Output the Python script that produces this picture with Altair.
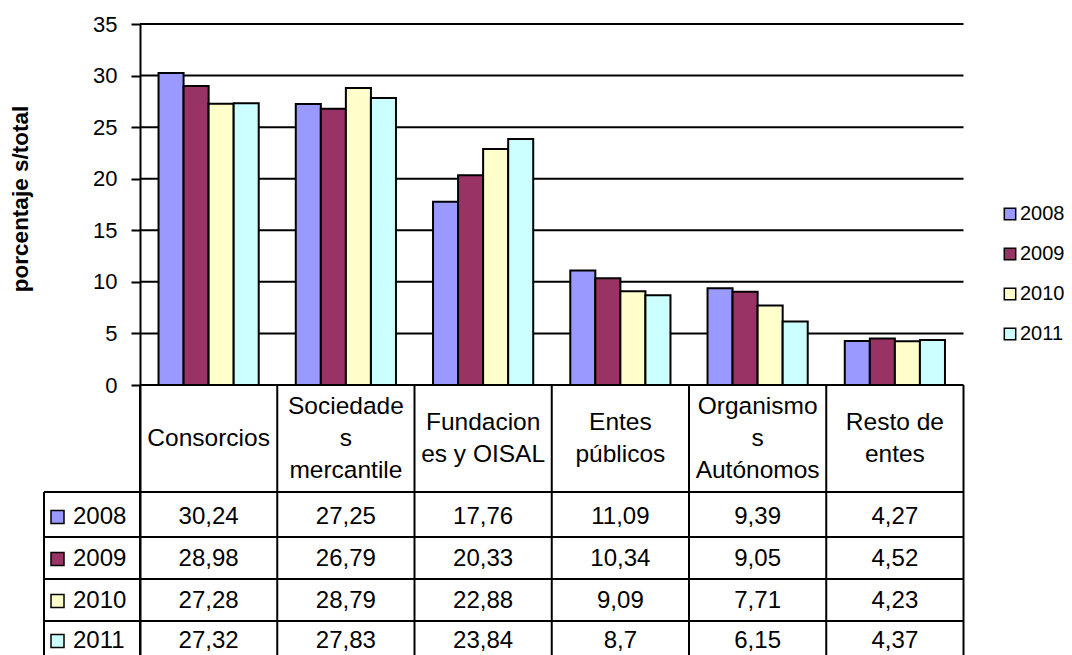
import altair as alt
import pandas as pd

# ---------------- data ----------------
categories = ["Consorcios", "Sociedade\ns\nmercantile", "Fundacion\nes y OISAL",
              "Entes\npúblicos", "Organismo\ns\nAutónomos", "Resto de\nentes"]
years = ["2008", "2009", "2010", "2011"]
v2008 = [30.24, 27.25, 17.76, 11.09, 9.39, 4.27]
v2009 = [28.98, 26.79, 20.33, 10.34, 9.05, 4.52]
v2010 = [27.28, 28.79, 22.88, 9.09, 7.71, 4.23]
v2011 = [27.32, 27.83, 23.84, 8.7, 6.15, 4.37]
series = [v2008, v2009, v2010, v2011]
y_ticks = [0, 5, 10, 15, 20, 25, 30, 35]
colors = ["#9999FF", "#993366", "#FFFFCC", "#CCFFFF"]

# ---------------- layout helpers (page pixels -> data units) ----------------
COLW = 137.25          # px per category column
X0 = 140.0             # page x of category edge 0
PY0 = 385.0            # page y of value 0
PXU = 361.0 / 35.0     # px per value unit
PLOT_LEFT, PLOT_TOP = 44.0, 24.0
PLOT_W, PLOT_H = 920.0, 638.0
LINE_H = 32

def dx(px):
    return (px - X0) / COLW

def dy(py):
    return (PY0 - py) / PXU

xmin, xmax = dx(PLOT_LEFT), dx(PLOT_LEFT + PLOT_W)
ymax, ymin = dy(PLOT_TOP), dy(PLOT_TOP + PLOT_H)
xs = alt.Scale(domain=[xmin, xmax], nice=False, zero=False)
ys = alt.Scale(domain=[ymin, ymax], nice=False, zero=False)
FONT = "Liberation Sans"

yaxis = alt.Axis(
    values=y_ticks, offset=-96, grid=False, title="porcentaje s/total",
    labelFontSize=22, labelFont=FONT, labelColor="black", labelPadding=14,
    tickColor="black", tickWidth=2, tickSize=9, domainColor="black", domainWidth=2,
    titleFontSize=22.5, titleFont=FONT, titleFontWeight="bold", titleColor="black",
    titleX=-108, titleY=174.5, titleAngle=270, titleBaseline="bottom", titleAlign="center",
    zindex=1)

def X(field):
    return alt.X(field, scale=xs, axis=None)

def Y(field):
    return alt.Y(field, scale=ys, axis=yaxis)

color = alt.Color("year:N", scale=alt.Scale(domain=years, range=colors),
                  legend=alt.Legend(orient="none", legendX=956, legendY=180, title=None,
                                    symbolType="square", symbolSize=130,
                                    symbolStrokeColor="black", symbolStrokeWidth=1.5,
                                    labelFontSize=20, labelFont=FONT, labelColor="black",
                                    rowPadding=20, labelOffset=0, padding=0))

BW = 0.1825
GAP = (1 - 4 * BW) / 2
bar_rows = []
for j, (yr, vals) in enumerate(zip(years, series)):
    for i, v in enumerate(vals):
        x = i + GAP + j * BW
        bar_rows.append(dict(year=yr, x=x, x2=x + BW, v=v))
bars_df = pd.DataFrame(bar_rows)

# grid lines
grid_df = pd.DataFrame({"y": y_ticks, "x": [0.0] * len(y_ticks), "x2": [6.0] * len(y_ticks)})
grid = alt.Chart(grid_df).mark_rule(color="black", strokeWidth=2).encode(
    x=X("x:Q"), x2="x2:Q", y=Y("y:Q"))

bars = alt.Chart(bars_df).mark_bar(stroke="black", strokeWidth=2, opacity=1).encode(
    x=X("x:Q"), x2="x2:Q", y=Y("v:Q"), y2=alt.datum(0), color=color)

# table lines
row_edges = [492, 537, 579, 621]
hl_df = pd.DataFrame({"y": [dy(p) for p in row_edges],
                      "x": [xmin] * len(row_edges), "x2": [6.0] * len(row_edges)})
hlines = alt.Chart(hl_df).mark_rule(color="black", strokeWidth=2).encode(
    x=X("x:Q"), x2="x2:Q", y=Y("y:Q"))
vl_df = pd.DataFrame({"x": list(range(0, 7)) + [xmin],
                      "y": [0.0] * 7 + [dy(492)],
                      "y2": [ymin] * 8})
vlines = alt.Chart(vl_df).mark_rule(color="black", strokeWidth=2).encode(
    x=X("x:Q"), y=Y("y:Q"), y2="y2:Q")

# header text (multi-line blocks centred on the header row)
HDR_C = 439
hdr_df = pd.DataFrame({"cat": categories, "x": [i + 0.5 for i in range(6)],
                       "y": [dy(HDR_C - (c.count("\n")) * LINE_H / 2) for c in categories]})
header = alt.Chart(hdr_df).mark_text(fontSize=24.5, font=FONT, color="black",
                                     lineBreak="\n", lineHeight=LINE_H, baseline="middle",
                                     align="center").encode(
    x=X("x:Q"), y=Y("y:Q"), text="cat:N")

row_centers = [517, 559, 601, 641]
lab_df = pd.DataFrame({"year": years, "y": [dy(p) for p in row_centers],
                       "xs": [dx(57.5)] * 4, "xt": [dx(73)] * 4})
swatch = alt.Chart(lab_df).mark_square(size=169, stroke="black", strokeWidth=1.5,
                                       opacity=1, filled=True).encode(
    x=X("xs:Q"), y=Y("y:Q"), color=color)
labels = alt.Chart(lab_df).mark_text(fontSize=24, font=FONT, color="black",
                                     align="left", baseline="middle").encode(
    x=X("xt:Q"), y=Y("y:Q"), text="year:N")

val_rows = []
for j, (yr, vals) in enumerate(zip(years, series)):
    for i, v in enumerate(vals):
        val_rows.append(dict(year=yr, x=i + 0.5, y=dy(row_centers[j]),
                             t=str(v).replace(".", ",")))
val_df = pd.DataFrame(val_rows)
values = alt.Chart(val_df).mark_text(fontSize=24, font=FONT, color="black",
                                     align="center", baseline="middle").encode(
    x=X("x:Q"), y=Y("y:Q"), text="t:N")

chart = alt.layer(grid, bars, hlines, vlines, header, swatch, labels, values).properties(
    width=PLOT_W, height=PLOT_H,
    autosize=alt.AutoSizeParams(type="none"),
    padding={"left": 36, "top": 16, "right": 100, "bottom": 0},
).configure(font=FONT, view=alt.ViewConfig(stroke=None))

chart.save("out.html", embed_options={"renderer": "svg", "actions": False})
